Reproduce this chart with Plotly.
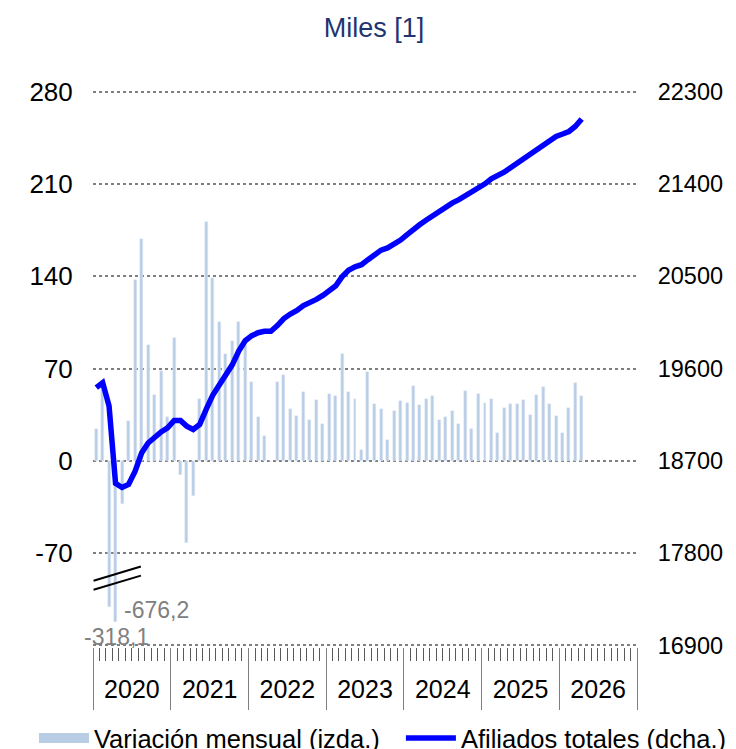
import pandas as pd
import plotly.graph_objects as go

# Meses (ene-2020 a abr-2026)
meses = pd.date_range("2020-01-01", periods=76, freq="MS")

# Variación mensual (miles, eje izdo.). Mar/abr 2020 van cortados por la rotura del eje
variacion = [
    24, 57, -111, -122, -33, 30, 137, 168, 88, 50, 68, 33,
    93, -11, -62, -27, 47, 181, 139, 105, 81, 91, 105, 88,
    60, 33, 19, 0, 60, 65, 39, 34, 52, 31, 46, 28,
    51, 49, 81, 52, 47, 8, 67, 43, 39, 16, 38, 45,
    44, 57, 42, 47, 49, 31, 33, 38, 28, 53, 24, 51,
    44, 47, 21, 40, 43, 43, 46, 35, 50, 56, 43, 34,
    21, 40, 59, 49,
]

# Afiliados totales (miles, eje dcho.)
afiliados = [
    19413, 19462, 19234, 18480, 18440, 18470, 18597, 18776, 18874, 18930, 18982, 19021,
    19094, 19094, 19038, 19006, 19055, 19202, 19339, 19440, 19528, 19636, 19770, 19871,
    19920, 19949, 19962, 19962, 20018, 20087, 20131, 20165, 20214, 20240, 20274, 20313,
    20357, 20406, 20494, 20558, 20592, 20612, 20661, 20710, 20754, 20776, 20813, 20852,
    20906, 20960, 21004, 21048, 21092, 21131, 21172, 21215, 21247, 21283, 21318, 21359,
    21401, 21450, 21479, 21514, 21558, 21602, 21641, 21680, 21724, 21778, 21823, 21862,
    21886, 21911, 21960, 22033,
]

ticks_izda = [-70, 0, 70, 140, 210, 280]
etiquetas_corte = ["-676,2", "-318,1"]

AZUL_BARRA = "#b9cde5"

fig = go.Figure()
fig.add_trace(go.Bar(
    x=meses, y=variacion, name="Variación mensual (izda.)",
    marker_color=AZUL_BARRA, width=14 * 86400000,
    xperiod="M1", xperiodalignment="middle", showlegend=False,
))
# entrada de leyenda con el rectángulo ancho del original
fig.add_trace(go.Scatter(
    x=[None], y=[None], mode="lines", name="Variación mensual (izda.)",
    line=dict(color=AZUL_BARRA, width=14), legend="legend",
))
fig.add_trace(go.Scatter(
    x=meses, y=afiliados, name="Afiliados totales (dcha.)", mode="lines",
    line=dict(color="#0000ff", width=5.5), yaxis="y2",
    xperiod="M1", xperiodalignment="middle", legend="legend2",
))

rango_x = ["2020-01-01", "2027-01-01"]
# ejes algo más amplios que 280/-140 para que plotly no quite las rejillas del borde
rango_izda = [-141.2, 281.2]
rango_dcha = [16900 - 1.2 * 900 / 70, 22300 + 1.2 * 900 / 70]
fuente = dict(family="Liberation Sans, Arial, sans-serif", size=26, color="black")
leyenda = dict(orientation="h", xanchor="left", y=-0.122, yanchor="top",
               font=dict(size=25.5), itemwidth=50, bgcolor="rgba(0,0,0,0)")

fig.update_layout(
    width=728, height=741,
    margin=dict(l=85, r=99, t=82.4, b=101.9, autoexpand=False),
    paper_bgcolor="white", plot_bgcolor="white",
    font=fuente,
    showlegend=True,
    bargap=0,
    title=dict(text="Miles [1]", x=0.5027, xanchor="center", y=0.973, yanchor="middle",
               font=dict(size=27, color="#1f3470")),
    xaxis=dict(
        type="date", range=rango_x, dtick="M12", tick0="2020-01-01",
        tickformat="%Y", ticklabelmode="period",
        ticks="outside", ticklen=62, tickcolor="#7f7f7f", tickwidth=1,
        ticklabelstandoff=-42,
        showgrid=False, showline=False, zeroline=False, automargin=False,
        tickfont=dict(size=25, color="black"),
        minor=dict(dtick="M1", tick0="2020-01-01", ticks="outside", ticklen=13,
                   tickcolor="#595959", tickwidth=1, showgrid=False),
    ),
    xaxis2=dict(
        type="date", range=rango_x, overlaying="x", anchor="free",
        position=(0 - rango_izda[0]) / (rango_izda[1] - rango_izda[0]),
        showline=True, linecolor="#595959", linewidth=2,
        ticks="outside", ticklen=6, dtick="M1", tick0="2020-01-01",
        tickcolor="#595959", tickwidth=1,
        showticklabels=False, showgrid=False, zeroline=False,
    ),
    yaxis=dict(
        range=rango_izda, tickvals=ticks_izda, ticktext=[str(v) for v in ticks_izda],
        showgrid=False, zeroline=False, automargin=False,
        ticks="outside", ticklen=14, tickcolor="rgba(0,0,0,0)",
    ),
    yaxis2=dict(
        range=rango_dcha, tick0=16900, dtick=900, tickformat="d",
        overlaying="y", side="right", automargin=False,
        showgrid=True, gridcolor="#7f7f7f", griddash="dot", gridwidth=2,
        zeroline=False,
        ticks="outside", ticklen=15, tickcolor="rgba(0,0,0,0)",
        tickfont=dict(size=23.5),
    ),
    legend=dict(leyenda, x=-0.1085),
    legend2=dict(leyenda, x=0.566),
)

# rotura del eje izquierdo
for y0, y1 in [(-90.9, -80.2), (-97.8, -87.1)]:
    fig.add_shape(type="line", xref="paper", yref="y", x0=0.001, x1=0.088,
                  y0=y0, y1=y1, line=dict(color="black", width=2))

# valores reales de las barras cortadas
for texto, xp, yv in zip(etiquetas_corte, [0.117, 0.044], [-112.8, -133.4]):
    fig.add_annotation(text=texto, xref="paper", yref="y", x=xp, y=yv,
                       xanchor="center", yanchor="middle", showarrow=False,
                       font=dict(size=23, color="#808080"))

fig.write_html("out.html")
